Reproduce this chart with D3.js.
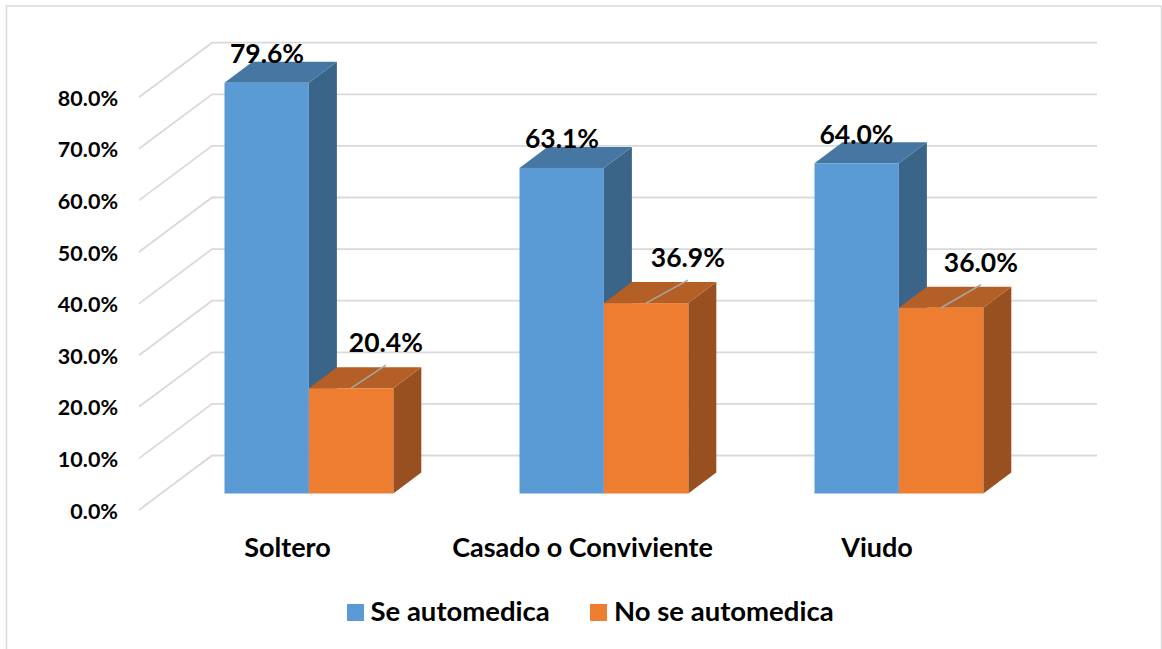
<!DOCTYPE html>
<html><head><meta charset="utf-8">
<style>html,body{margin:0;padding:0;background:#fff}svg{display:block}text{font-family:Lato,"Noto Sans",sans-serif;font-weight:700;fill:#000}</style>
<script src="https://cdnjs.cloudflare.com/ajax/libs/d3/7.8.5/d3.min.js"></script>
</head><body><svg id="c" width="1162" height="649"></svg>
<script>
const categories=["Soltero","Casado o Conviviente","Viudo"];
const seriesNames=["Se automedica","No se automedica"];
const seAutomedica=[79.6,63.1,64.0];
const noSeAutomedica=[20.4,36.9,36.0];
const tickValues=[0,10,20,30,40,50,60,70,80];
const colors=["#5B9BD5","#ED7D31"];
const topColors=["#4676A2","#B45F25"];
const sideColors=["#3A6488","#985020"];

const svg=d3.select("#c");
svg.append("rect").attr("x",6.5).attr("y",6).attr("width",1155).attr("height",660).attr("fill","#fff").attr("stroke","#dcdcdc").attr("stroke-width",1.6);

const y=d3.scaleLinear().domain([0,80]).range([493.5,80.7]);
const barsW=168.8;
const x0=d3.scaleBand().domain(categories).range([224.5-(295-barsW)/2,224.5-(295-barsW)/2+295*3]);
const x1=d3.scaleBand().domain(seriesNames).range([0,barsW]);
const dx=28,dy=-21;
const gridEnd=1097;
const wallOff=16.5;

const grid=svg.append("g").attr("fill","none").attr("stroke","#d9d9d9").attr("stroke-width",1.8);
tickValues.forEach(t=>{
  const yy=y(t);
  grid.append("path").attr("d",d3.line()([[139,yy+wallOff],[212,yy-38],[gridEnd,yy-38]]));
});
svg.append("g").selectAll("text").data(tickValues).join("text")
  .attr("x",118).attr("y",t=>y(t)+wallOff+8.5).attr("text-anchor","end").attr("font-size",21.5)
  .text(t=>d3.format(".1f")(t)+"%");

const seriesVals=[seAutomedica,noSeAutomedica];
const barLeft=(c,s)=>x0(c)+(295-barsW)/2+x1(s);
const labelShift=[[42.5,42.5,42],[77,84,82]];
categories.forEach((c,ci)=>{
  seriesNames.forEach((s,si)=>{
    const v=seriesVals[si][ci];
    const xl=barLeft(c,s),w=x1.bandwidth(),yt=y(v),yb=y(0);
    const g=svg.append("g");
    g.append("path").attr("fill",sideColors[si]).attr("d",d3.line()([[xl+w,yt],[xl+w+dx,yt+dy],[xl+w+dx,yb+dy],[xl+w,yb]])+"Z");
    g.append("path").attr("fill",topColors[si]).attr("d",d3.line()([[xl,yt],[xl+dx,yt+dy],[xl+w+dx,yt+dy],[xl+w,yt]])+"Z");
    g.append("rect").attr("x",xl).attr("y",yt).attr("width",w).attr("height",yb-yt).attr("fill",colors[si]);
    if(si===1){
      g.append("line").attr("x1",xl+w/2).attr("y1",yt).attr("x2",xl+labelShift[si][ci]).attr("y2",yt-23).attr("stroke","#a6a6a6").attr("stroke-width",1.5);
    }
  });
});
categories.forEach((c,ci)=>{
  seriesNames.forEach((s,si)=>{
    const v=seriesVals[si][ci];
    svg.append("text").attr("x",barLeft(c,s)+labelShift[si][ci]).attr("y",y(v)+(si===0?-19.5:-36)).attr("text-anchor","middle").attr("font-size",26.5).text(d3.format(".1f")(v)+"%");
  });
});
const catX=[287.5,582.5,877];
svg.append("g").selectAll("text").data(categories).join("text")
  .attr("x",(d,i)=>catX[i]).attr("y",557).attr("text-anchor","middle").attr("font-size",27).text(d=>d);

const legendX=[347,590],legendTextX=[370.5,614];
seriesNames.forEach((s,i)=>{
  svg.append("rect").attr("x",legendX[i]).attr("y",604).attr("width",17).attr("height",17).attr("fill",colors[i]);
  svg.append("text").attr("x",legendTextX[i]).attr("y",620.5).attr("font-size",27.5).text(s);
});
</script></body></html>
